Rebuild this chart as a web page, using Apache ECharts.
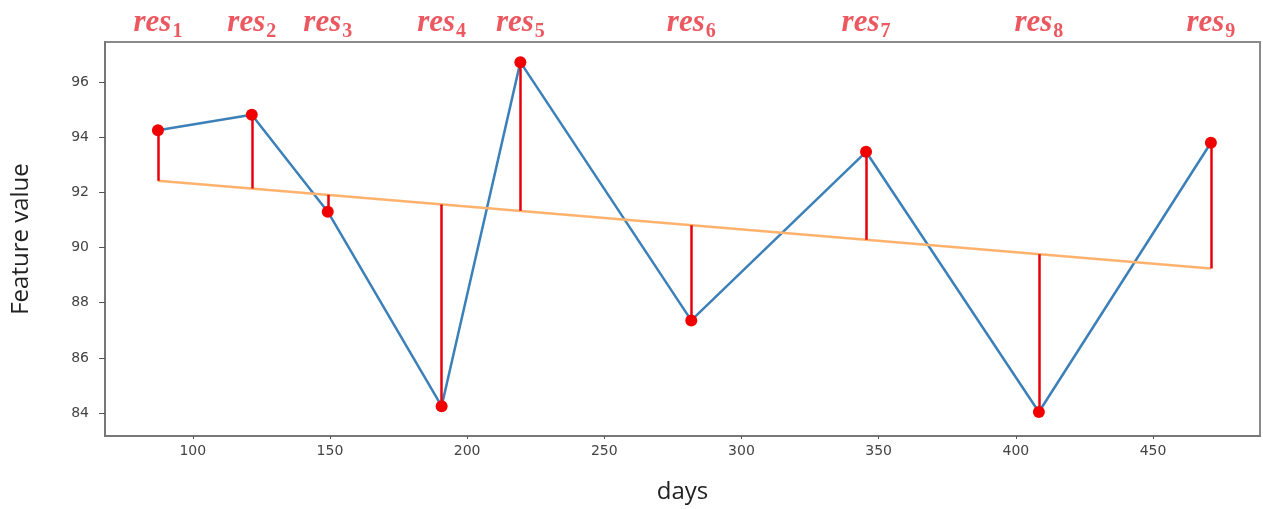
<!DOCTYPE html>
<html>
<head>
<meta charset="utf-8">
<script src="https://cdn.jsdelivr.net/npm/echarts@6.0.0/dist/echarts.min.js"></script>
<style>
  html, body { margin: 0; padding: 0; background: #fff; }
  #chart { width: 1263px; height: 509px; }
</style>
</head>
<body>
<div id="chart"></div>
<script>
// observed points (days, feature value)
const days = [87.3, 121.5, 149.2, 190.7, 219.4, 281.7, 345.4, 408.4, 471.1];
const values = [94.25, 94.81, 91.3, 84.25, 96.72, 87.36, 93.47, 84.04, 93.8];
// fitted value at each day (top of the residual line)
const fitted = [92.42, 92.14, 91.91, 91.56, 91.33, 90.81, 90.28, 89.76, 89.24];
// regression line end points
const trendDays = [87.3, 471.1];
const trendValues = [92.42, 89.24];
const resNames = ['1', '2', '3', '4', '5', '6', '7', '8', '9'];
const xTicks = [100, 150, 200, 250, 300, 350, 400, 450];
const yTicks = [84, 86, 88, 90, 92, 94, 96];

const chart = echarts.init(document.getElementById('chart'));

const tickLabel = { color: '#444', fontSize: 14, fontFamily: 'DejaVu Sans' };

const option = {
  animation: false,
  grid: {
    left: 105, right: 3, top: 42, bottom: 72,
    show: true, borderColor: '#8a8a8a', borderWidth: 2
  },
  xAxis: {
    type: 'value', min: 68, max: 489,
    name: 'days', nameLocation: 'middle', nameGap: 44,
    nameTextStyle: { fontSize: 24, color: '#222', fontFamily: 'Open Sans' },
    axisLine: { show: true, lineStyle: { color: '#777', width: 2 } },
    axisTick: { show: true, length: 3, customValues: xTicks, lineStyle: { color: '#555' } },
    axisLabel: Object.assign({ customValues: xTicks, margin: 8 }, tickLabel),
    splitLine: { show: false }
  },
  yAxis: {
    type: 'value', min: 83.17, max: 97.45,
    name: 'Feature value', nameLocation: 'middle', nameGap: 72, nameRotate: 90,
    nameTextStyle: { fontSize: 24, color: '#222', fontFamily: 'Open Sans' },
    axisLine: { show: true, lineStyle: { color: '#777', width: 2 } },
    axisTick: { show: true, length: 6, customValues: yTicks, lineStyle: { color: '#555' } },
    axisLabel: Object.assign({ customValues: yTicks, margin: 16 }, tickLabel),
    splitLine: { show: false }
  },
  series: [
    {
      type: 'line',
      data: days.map((d, i) => [d, values[i]]),
      showSymbol: false,
      lineStyle: { color: '#3b80b8', width: 2.5 },
      z: 2
    },
    {
      type: 'line',
      data: trendDays.map((d, i) => [d, trendValues[i]]),
      showSymbol: false,
      lineStyle: { color: '#ffb26e', width: 2.5 },
      z: 3
    },
    {
      type: 'lines',
      coordinateSystem: 'cartesian2d',
      data: days.map((d, i) => ({ coords: [[d, values[i]], [d, fitted[i]]] })),
      lineStyle: { color: '#e8000b', width: 2.5, opacity: 1 },
      z: 4
    },
    {
      type: 'scatter',
      data: days.map((d, i) => [d, values[i]]),
      symbolSize: 12,
      itemStyle: { color: '#f00000', opacity: 1 },
      z: 5
    },
    {
      type: 'scatter',
      data: days.map((d, i) => [d, 97.45]),
      symbolSize: 0,
      clip: false,
      silent: true,
      label: {
        show: true,
        position: 'top',
        distance: 4,
        formatter: p => '{r|res}{s|' + resNames[p.dataIndex] + '}',
        rich: {
          r: { fontSize: 31, fontStyle: 'italic', fontWeight: 'bold', fontFamily: 'Liberation Serif', color: '#e62e38', verticalAlign: 'bottom', lineHeight: 30 },
          s: { fontSize: 20, fontWeight: 'bold', fontFamily: 'Liberation Serif', color: '#e62e38', verticalAlign: 'bottom', lineHeight: 30, padding: [0, 0, -4, 1] }
        }
      },
      z: 6
    }
  ]
};

chart.setOption(option);
</script>
</body>
</html>
